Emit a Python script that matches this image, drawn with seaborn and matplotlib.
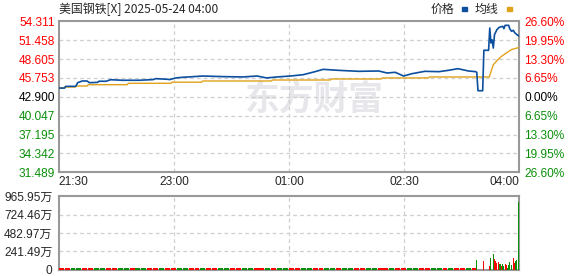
import matplotlib
matplotlib.use("Agg")
import matplotlib.pyplot as plt
import seaborn as sns
import pandas as pd

# ---------------- data ----------------
title_text = "美国钢铁[X] 2025-05-24 04:00"
prev_close = 42.900
y_ticks = [31.489, 34.342, 37.195, 40.047, 42.900, 45.753, 48.605, 51.458, 54.311]
y_tick_labels = ["31.489", "34.342", "37.195", "40.047", "42.900", "45.753", "48.605", "51.458", "54.311"]
pct_labels = ["26.60%", "19.95%", "13.30%", "6.65%", "0.00%", "6.65%", "13.30%", "19.95%", "26.60%"]
time_ticks = [0, 97.5, 195, 292.5, 390]
time_labels = ["21:30", "23:00", "01:00", "02:30", "04:00"]
vol_ticks = [0, 241.49, 482.97, 724.46, 965.95]
vol_tick_labels = ["0", "241.49万", "482.97万", "724.46万", "965.95万"]

price_min = [0, 5, 6, 14, 15, 16, 20, 24, 26, 33, 34, 40, 44, 54, 68, 80, 82, 92, 94, 99, 105, 110,
             122, 139, 156, 168, 176, 185, 196, 207, 216, 224,
             237, 254, 271, 278, 285, 292, 299, 310, 322, 330, 338, 347, 353,
             354, 355, 359, 360, 364, 365, 366, 367, 368, 369, 371, 373, 376, 377, 378, 381,
             382, 383.5, 385, 386, 388, 390]
price_val = [44.22, 44.22, 44.48, 44.48, 44.64, 45.03, 45.29, 45.29, 45.03, 45.08, 45.25, 45.25, 45.48,
             45.40, 45.40, 45.50, 45.64, 45.55, 45.50, 45.75, 45.85, 45.90,
             46.04, 45.95, 45.90, 46.04, 45.75, 45.90, 46.04, 46.24, 46.65, 47.05,
             46.90, 46.75, 46.80, 46.50, 46.60, 46.04, 46.39, 46.75, 46.70, 46.90, 47.15, 46.80, 46.70,
             46.60, 43.82, 43.82, 49.93, 49.93, 53.30, 51.03, 51.50, 50.27, 52.29, 53.04, 53.40, 53.55,
             53.20, 53.70, 53.70, 53.15, 52.80, 52.95, 52.60, 52.29, 52.04]

avg_min = [0, 4, 5, 14, 15, 24, 25, 58, 59, 95, 96, 121, 122, 180, 181, 230, 231, 273, 274, 313, 314,
           364.6, 368, 371, 375, 379, 383.5, 386, 390]
avg_val = [44.22, 44.22, 44.38, 44.38, 44.53, 44.53, 44.73, 44.73, 44.94, 44.94, 45.11, 45.11, 45.29,
           45.29, 45.44, 45.44, 45.59, 45.59, 45.75, 45.75, 45.90, 45.90, 47.75, 48.35, 49.02, 49.52,
           50.05, 50.17, 50.38]

# small early volumes (万), one bar per 5 minutes, with up(red)/down(green) flag
base_vol = [22, 20, 23, 22, 20, 22, 23, 22, 20, 22, 22, 23, 20, 22, 22, 20, 23, 22, 22, 20,
            22, 23, 22, 20, 22, 22, 23, 20, 22, 22, 20, 22, 23, 22, 20, 22, 22, 23, 20, 22,
            22, 20, 23, 22, 22, 20, 22, 23, 22, 20, 22, 22, 23, 20, 22, 22, 20, 22, 23, 22,
            20, 22, 22, 23, 20, 22, 22, 20, 22, 23, 22]
base_up = [1, 1, 0, 0, 1, 1, 0, 0, 1, 1, 0, 0, 1, 0, 0, 1, 1, 0, 1, 1,
           0, 0, 1, 1, 0, 1, 1, 0, 0, 1, 1, 0, 0, 1, 1, 0, 1, 0, 0, 1,
           1, 0, 0, 1, 1, 0, 0, 1, 0, 0, 1, 1, 0, 0, 1, 1, 0, 1, 1, 0,
           0, 1, 1, 0, 0, 1, 0, 1, 1, 0, 1]

end_min = [354, 360, 365, 366, 368, 369, 370, 371, 372, 373, 374, 375, 376, 377, 378, 379, 380,
           381, 382, 383, 385, 386, 387, 388, 389]
end_vol = [130, 117, 52, 157, 209, 143, 122, 96, 109, 78, 78, 52, 78, 52, 78, 65, 20,
           65, 104, 65, 157, 91, 117, 130, 890]
end_up = [0, 1, 1, 0, 0, 1, 1, 1, 1, 0, 0, 1, 0, 0, 1, 1, 0,
          0, 0, 0, 1, 1, 0, 0, 0]

# ---------------- style ----------------
sns.set_style("white")
plt.rcParams["font.family"] = ["Liberation Sans", "Noto Sans CJK SC", "DejaVu Sans"]

W, H = 578, 276
fig = plt.figure(figsize=(W / 100, H / 100), dpi=100)
fig.patch.set_facecolor("white")

L, R = 58.7, 519.3
ax1 = fig.add_axes([L / W, 1 - 172.3 / H, (R - L) / W, (172.3 - 21.3) / H])
ax2 = fig.add_axes([L / W, 1 - 270 / H, (R - L) / W, (270 - 196) / H])

RED = "#ff0000"
GREEN = "#0a8f0a"
BLUE = "#0b4f9e"
ORANGE = "#e0a21a"
GRID = "#cfcfcf"
SPINE = "#999999"
FS = 8.6

# watermark
ax1.text(0.555, 0.485, "东方财富", transform=ax1.transAxes, ha="center", va="center",
         fontsize=25, fontweight="bold", color="#e6e6eb", family=["Noto Sans CJK SC"], zorder=0)

price_df = pd.DataFrame({"minute": price_min, "price": price_val})
avg_df = pd.DataFrame({"minute": avg_min, "avg": avg_val})
sns.lineplot(data=avg_df, x="minute", y="avg", ax=ax1, color=ORANGE, lw=1.0,
             estimator=None, zorder=3)
sns.lineplot(data=price_df, x="minute", y="price", ax=ax1, color=BLUE, lw=1.2,
             estimator=None, zorder=4)

ax1.set_xlim(0, 390)
ax1.set_ylim(y_ticks[0], y_ticks[-1])
ax1.set_xlabel("")
ax1.set_ylabel("")

label_colors = [GREEN, GREEN, GREEN, GREEN, "black", RED, RED, RED, RED]
ax1.set_yticks(y_ticks)
ax1.set_yticklabels(y_tick_labels, fontsize=FS)
for t, c in zip(ax1.get_yticklabels(), label_colors):
    t.set_color(c)
ax1.tick_params(axis="y", length=0, pad=2.5)

axr = ax1.twinx()
axr.set_ylim(y_ticks[0], y_ticks[-1])
axr.set_yticks(y_ticks)
axr.set_yticklabels(pct_labels, fontsize=FS)
for t, c in zip(axr.get_yticklabels(), label_colors):
    t.set_color(c)
axr.tick_params(axis="y", length=0, pad=3.5)
for s in axr.spines.values():
    s.set_visible(False)

ax1.set_xticks(time_ticks)
ax1.set_xticklabels(time_labels, fontsize=FS)
labs = ax1.get_xticklabels()
labs[0].set_ha("left")
labs[-1].set_ha("right")
ax1.tick_params(axis="x", length=0, pad=2.5)

for v in y_ticks[1:-1]:
    ax1.axhline(v, color=GRID, lw=0.9, ls=(0, (3, 2.5)), zorder=1)
for t in time_ticks[1:-1]:
    ax1.axvline(t, color=GRID, lw=0.9, ls=(0, (3, 2.5)), zorder=1)

# volume
bx = [5 * i for i in range(len(base_vol))]
ax2.bar(bx, base_vol, width=4.2, align="edge",
        color=[RED if u else GREEN for u in base_up], lw=0, zorder=3)
ax2.bar(end_min, end_vol, width=0.85,
        color=[RED if u else GREEN for u in end_up], lw=0, zorder=3)
ax2.set_xlim(0, 390)
ax2.set_ylim(0, vol_ticks[-1])
ax2.set_xticks([])
ax2.set_yticks(vol_ticks)
ax2.set_yticklabels(vol_tick_labels, fontsize=FS)
ax2.tick_params(axis="y", length=0, pad=4.5)
for v in vol_ticks[1:-1]:
    ax2.axhline(v, color=GRID, lw=0.9, ls=(0, (3, 2.5)), zorder=1)
for t in time_ticks[1:-1]:
    ax2.axvline(t, color=GRID, lw=0.9, ls=(0, (3, 2.5)), zorder=1)

for ax in (ax1, ax2):
    ax.grid(False)
    for s in ax.spines.values():
        s.set_color(SPINE)
        s.set_linewidth(1.5)

# title & legend
fig.text(L / W, 1 - 9 / H, title_text, ha="left", va="center", fontsize=FS,
         family=["Noto Sans CJK SC", "DejaVu Sans"])
fig.text(431 / W, 1 - 9 / H, "价格", ha="left", va="center", fontsize=FS,
         family=["Noto Sans CJK SC"])
fig.patches.append(matplotlib.patches.Rectangle((461.7 / W, 1 - 10.5 / H), 5 / W, 3 / H,
                                                transform=fig.transFigure, color=BLUE))
fig.text(475 / W, 1 - 9 / H, "均线", ha="left", va="center", fontsize=FS,
         family=["Noto Sans CJK SC"])
fig.patches.append(matplotlib.patches.Rectangle((507.3 / W, 1 - 10.5 / H), 5 / W, 3 / H,
                                                transform=fig.transFigure, color=ORANGE))

fig.savefig("out.png", dpi=100)
